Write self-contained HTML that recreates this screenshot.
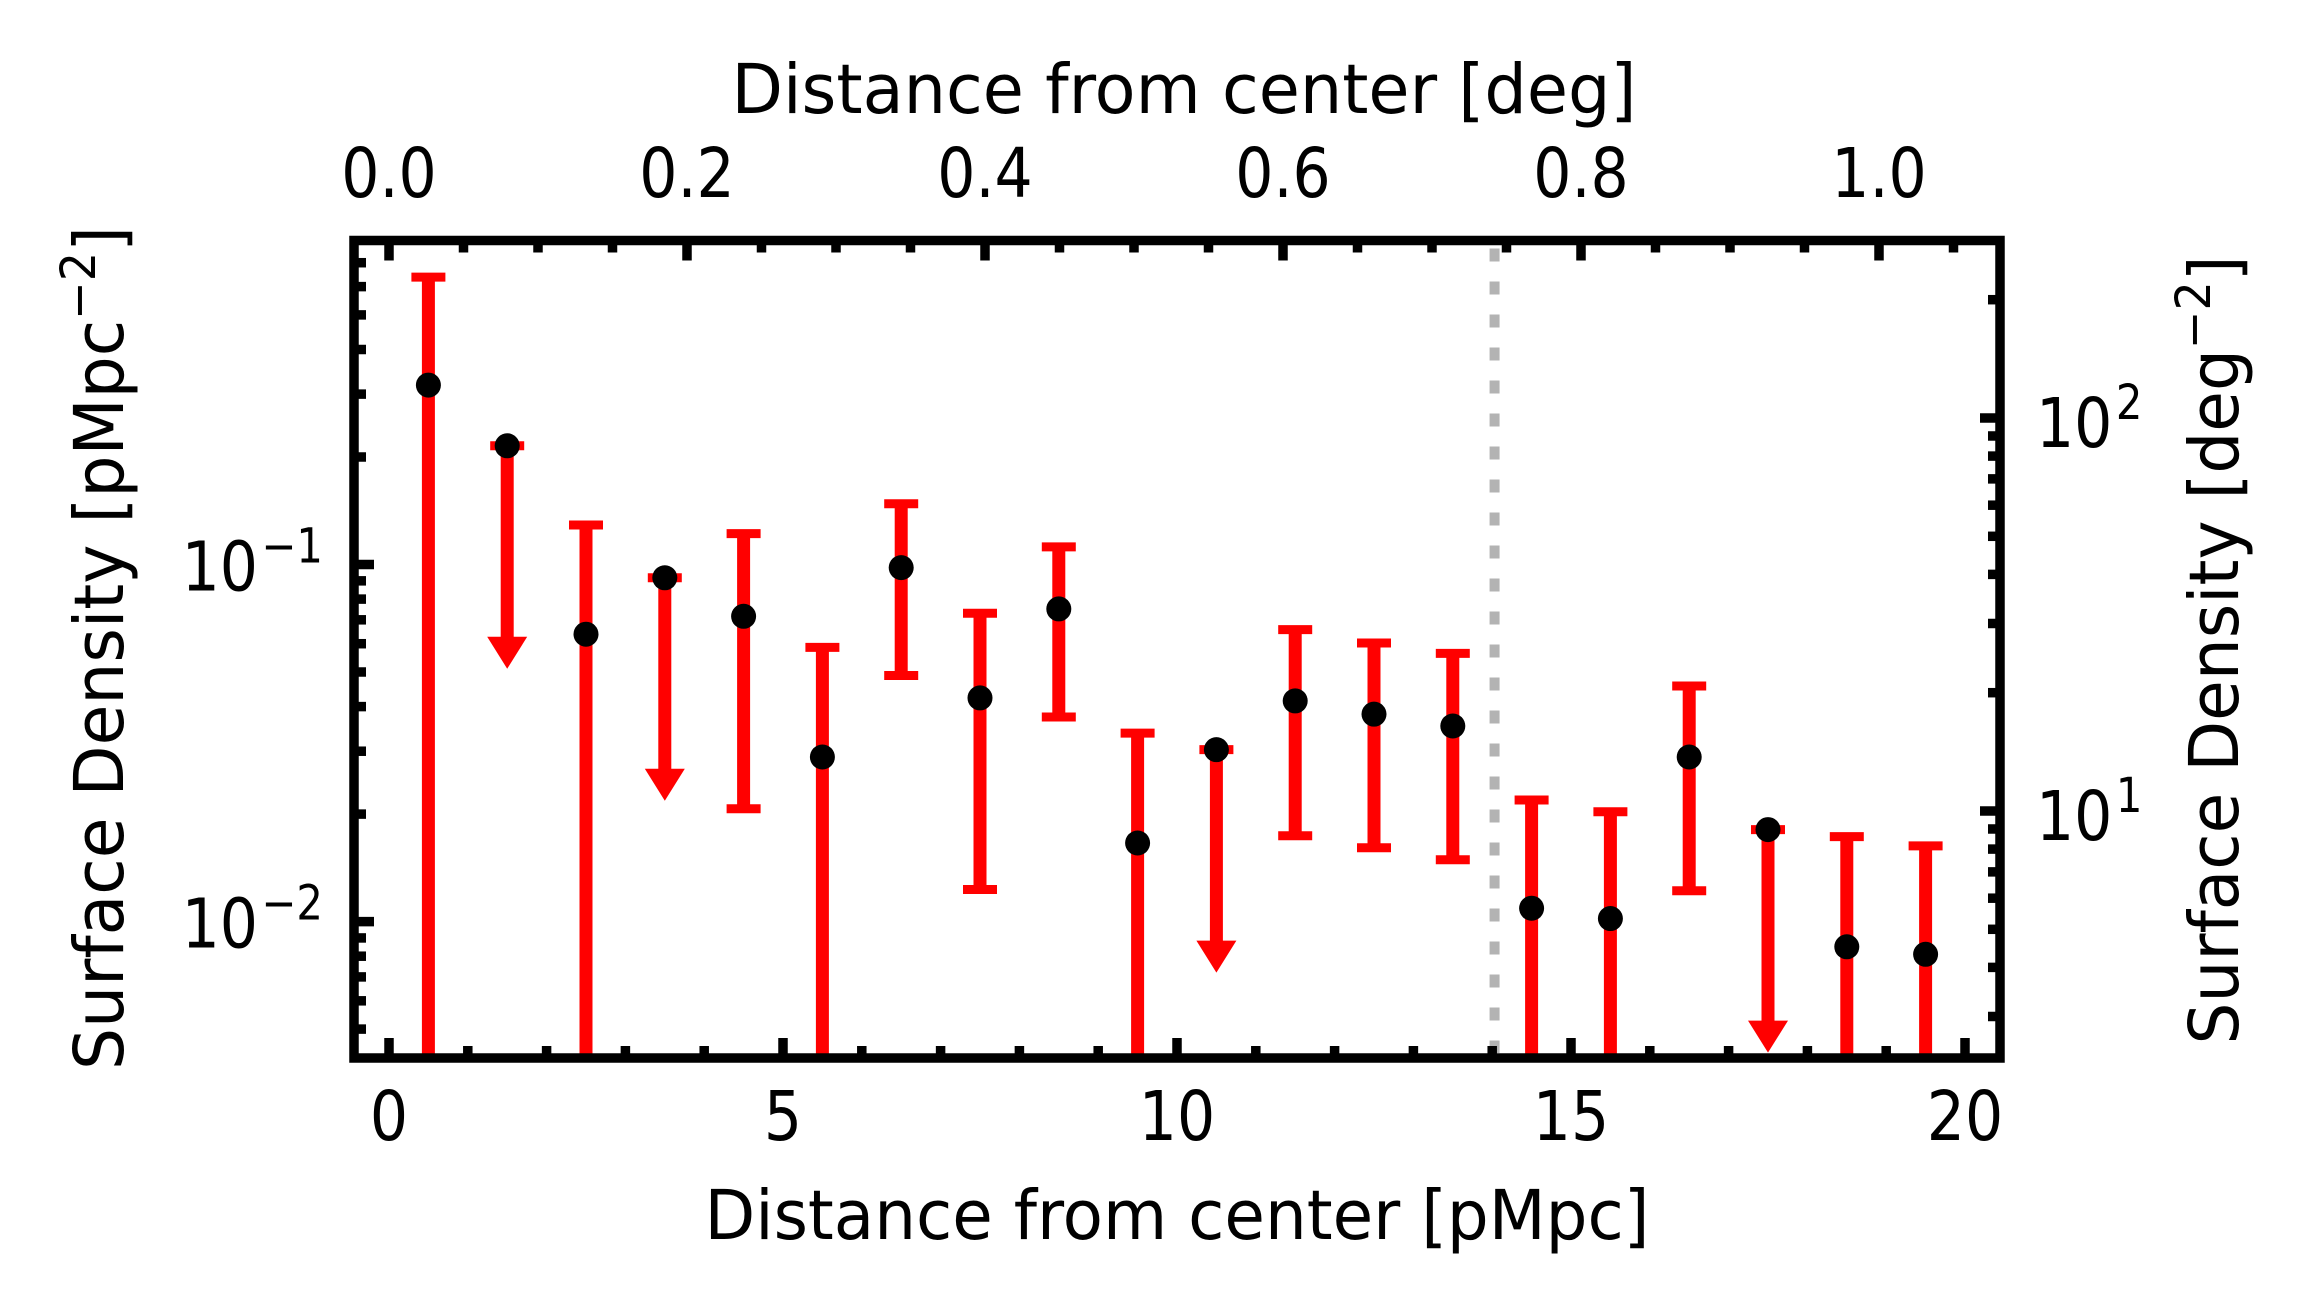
<!DOCTYPE html>
<html><head><meta charset="utf-8"><style>
html,body{margin:0;padding:0;background:#fff;}
svg{display:block;}
text{font-family:"DejaVu Sans","Liberation Sans",sans-serif;fill:#000;}
</style></head><body>
<svg id="chart" width="2314" height="1312" viewBox="0 0 2314 1312" xmlns="http://www.w3.org/2000/svg">
<defs><clipPath id="plotclip"><rect x="354" y="240" width="1646" height="818"/></clipPath></defs>
<g id="plot"></g>
</svg>
<script>
const xs = [0.5,1.5,2.5,3.5,4.5,5.5,6.5,7.5,8.5,9.5,10.5,11.5,12.5,13.5,14.5,15.5,16.5,17.5,18.5,19.5];
const vals = [0.318,0.215,0.0638,0.0918,0.0716,0.0289,0.098,0.0423,0.0751,0.0166,0.0303,0.0415,0.0381,0.0353,0.0109,0.0102,0.0289,0.0181,0.0085,0.0081];
const upper = [0.638,null,0.129,null,0.122,0.0586,0.148,0.073,0.112,0.0337,null,0.0657,0.0603,0.0564,0.0219,0.0203,0.0457,null,0.0173,0.0163];
const lower = [0,null,0,null,0.0207,0,0.0489,0.0123,0.0374,0,null,0.0174,0.0161,0.0149,0,0,0.0122,null,0,0];
const isLimit = [false,true,false,true,false,false,false,false,false,false,true,false,false,false,false,false,false,true,false,false];
const bottomTicks = [0,5,10,15,20];
const topTicks = [0.0,0.2,0.4,0.6,0.8,1.0];
const topTickLabels = ["0.0","0.2","0.4","0.6","0.8","1.0"];
const leftExp = [-1,-2];
const rightExp = [2,1];
const cutoff = 14.03;

const NS="http://www.w3.org/2000/svg";
const g=document.getElementById('plot');
const L=354,R=2000,T=240.5,B=1058;
function X(v){return 389+v*78.8;}
function Xdeg(d){return 389+d*1490;}
function Y(v){return 564.5-(Math.log10(v)+1)*357.1;}
function YR(v){return 418+(2-Math.log10(v))*393;}
function mk(tag,attrs,parent){const e=document.createElementNS(NS,tag);for(const k in attrs)e.setAttribute(k,attrs[k]);(parent||g).appendChild(e);return e;}
function clampY(y){return Math.max(T,Math.min(B+10,y));}

// dotted cutoff line
const cl=mk('line',{x1:X(cutoff),x2:X(cutoff),y1:T+8,y2:B-5,stroke:'#b3b3b3','stroke-width':10,'stroke-dasharray':'13 20'});



// data
const dg=mk('g',{'clip-path':'url(#plotclip)'});


for(let i=0;i<xs.length;i++){
  const x=X(xs[i]), y=Y(vals[i]);
  const eg=mk('g',{},dg);
  
  
  if(isLimit[i]){
    const tip=y+223;
    mk('line',{x1:x,x2:x,y1:y,y2:tip-28,stroke:'#ff0000','stroke-width':13},eg);
    mk('polygon',{points:(x-20)+','+(tip-32)+' '+(x+20)+','+(tip-32)+' '+x+','+tip,fill:'#ff0000'},eg);
    mk('line',{x1:x-17,x2:x+17,y1:y,y2:y,stroke:'#ff0000','stroke-width':9},eg);
  } else {
    const yu=Y(upper[i]);
    const yl=lower[i]>0?Y(lower[i]):B+20;
    mk('line',{x1:x,x2:x,y1:yu,y2:clampY(yl),stroke:'#ff0000','stroke-width':13},eg);
    mk('line',{x1:x-17,x2:x+17,y1:yu,y2:yu,stroke:'#ff0000','stroke-width':9},eg);
    if(lower[i]>0) mk('line',{x1:x-17,x2:x+17,y1:yl,y2:yl,stroke:'#ff0000','stroke-width':9},eg);
  }
  const pt=mk('circle',{cx:x,cy:y,r:12.5,fill:'#000'},dg);
  
  
}

// ticks
const tg=mk('g',{stroke:'#000','stroke-width':9.5});


for(let v=0;v<=20;v++){const x=X(v);const len=(v%5===0)?20:12;mk('line',{x1:x,x2:x,y1:B,y2:B-len},tg);}
for(let k=0;k<=21;k++){const d=k*0.05;const x=Xdeg(d);if(x>R-5)break;const len=(k%4===0)?20:12;mk('line',{x1:x,x2:x,y1:T,y2:T+len},tg);}
[-3,-2,-1].forEach(e=>{for(let m=1;m<=9;m++){const v=m*Math.pow(10,e);const y=Y(v);if(y<T+3||y>B-3)continue;mk('line',{x1:L,x2:L+(m===1?20:12),y1:y,y2:y},tg);}});
[0,1,2].forEach(e=>{for(let m=1;m<=9;m++){const v=m*Math.pow(10,e);const y=YR(v);if(y<T+3||y>B-3)continue;mk('line',{x1:R,x2:R-(m===1?20:12),y1:y,y2:y},tg);}});

// frame
const fr=mk('rect',{x:L,y:T,width:R-L,height:B-T,fill:'none',stroke:'#000','stroke-width':9.5});



function txt(x,y,s,anchor,name,size,sx){
  const t=mk('text',{transform:'translate('+x+','+y+') scale('+(sx||0.87)+',1)','text-anchor':anchor,'font-size':size||69});
  t.textContent=s;
  
  
  return t;
}
bottomTicks.forEach(v=>txt(X(v),1140,String(v),'middle','x-tick-label-'+v));
topTicks.forEach((d,i)=>txt(Xdeg(d),197,topTickLabels[i],'middle','top-tick-label-'+topTickLabels[i]));
function powLabel(x,y,e,anchor,name){
  const t=mk('text',{transform:'translate('+x+','+y+') scale(0.87,1)','text-anchor':anchor,'font-size':69});
  
  
  const a=document.createElementNS(NS,'tspan');a.textContent='10';t.appendChild(a);
  const b=document.createElementNS(NS,'tspan');b.setAttribute('font-size','48');b.setAttribute('dy','-28');b.setAttribute('dx','4');b.textContent=(e<0?'\u2212':'')+Math.abs(e);t.appendChild(b);
}
leftExp.forEach(e=>powLabel(323,Y(Math.pow(10,e))+26,e,'end','y-tick-label-'+e));
rightExp.forEach(e=>powLabel(2036,YR(Math.pow(10,e))+29,e,'start','y2-tick-label-'+e));

// axis titles
let t=mk('text',{x:1177,y:1239,'text-anchor':'middle','font-size':69,textLength:945,lengthAdjust:'spacingAndGlyphs'});
t.textContent='Distance from center [pMpc]';


t=mk('text',{x:1184,y:113,'text-anchor':'middle','font-size':69,textLength:905,lengthAdjust:'spacingAndGlyphs'});
t.textContent='Distance from center [deg]';


function vlabel(x,yc,len,main,sup,close,name){
  const tt=mk('text',{transform:'translate('+x+','+yc+') rotate(-90)','text-anchor':'middle','font-size':69,textLength:len,lengthAdjust:'spacingAndGlyphs'});
  
  
  const a=document.createElementNS(NS,'tspan');a.textContent=main;tt.appendChild(a);
  const b=document.createElementNS(NS,'tspan');b.setAttribute('font-size','48');b.setAttribute('dy','-28');b.textContent=sup;tt.appendChild(b);
  const c=document.createElementNS(NS,'tspan');c.setAttribute('dy','28');c.textContent=close;tt.appendChild(c);
}
vlabel(123,648,844,'Surface Density [pMpc','\u22122',']','y-axis-title');
vlabel(2238,650,789,'Surface Density [deg','\u22122',']','y2-axis-title');
</script>
</body></html>
